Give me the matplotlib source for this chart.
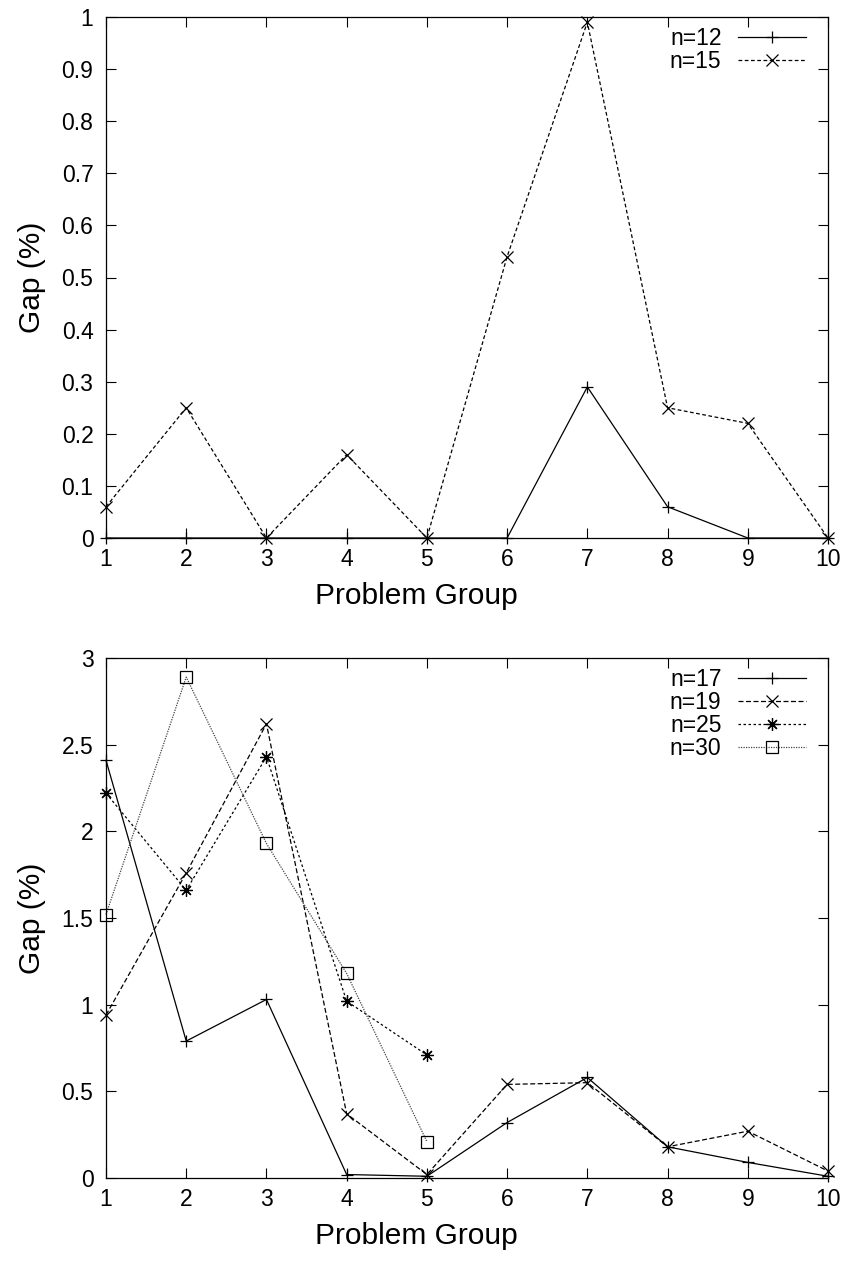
import matplotlib
matplotlib.use("Agg")
import matplotlib.pyplot as plt
import numpy as np

plt.rcParams['font.family'] = ['Liberation Sans', 'DejaVu Sans']

groups = [1, 2, 3, 4, 5, 6, 7, 8, 9, 10]

# top panel
n12 = [0, 0, 0, 0, 0, 0, 0.29, 0.06, 0, 0]
n15 = [0.06, 0.25, 0, 0.16, 0, 0.54, 0.99, 0.25, 0.22, 0]

# bottom panel
n17 = [2.41, 0.79, 1.03, 0.02, 0.01, 0.32, 0.58, 0.18, 0.09, 0.01]
n19 = [0.94, 1.76, 2.62, 0.37, 0.02, 0.54, 0.55, 0.18, 0.27, 0.04]
groups_short = [1, 2, 3, 4, 5]
n25 = [2.22, 1.66, 2.43, 1.02, 0.71]
n30 = [1.52, 2.89, 1.93, 1.18, 0.21]

top_yticks = [0, 0.1, 0.2, 0.3, 0.4, 0.5, 0.6, 0.7, 0.8, 0.9, 1]
top_yticklabels = ['0', '0.1', '0.2', '0.3', '0.4', '0.5', '0.6', '0.7', '0.8', '0.9', '1']
bot_yticks = [0, 0.5, 1, 1.5, 2, 2.5, 3]
bot_yticklabels = ['0', '0.5', '1', '1.5', '2', '2.5', '3']

W, H = 845, 1262
fig = plt.figure(figsize=(W / 100, H / 100), dpi=100)

def px_axes(l, t, r, b):
    return fig.add_axes([l / W, 1 - b / H, (r - l) / W, (b - t) / H])

ax1 = px_axes(106, 17, 828, 538)
ax2 = px_axes(106, 658, 828, 1178)

lw = 0.9
ms = 9

ax1.plot(groups, n12, color='black', lw=lw, ls='-', marker='+', ms=ms, mew=lw, label='n=12', clip_on=False)
ax1.plot(groups, n15, color='black', lw=lw, ls=(0, (3, 2)), marker='x', ms=ms - 1, mew=lw, label='n=15', clip_on=False)

ax2.plot(groups, n17, color='black', lw=lw, ls='-', marker='+', ms=ms, mew=lw, label='n=17', clip_on=False)
ax2.plot(groups, n19, color='black', lw=lw, ls=(0, (4, 2)), marker='x', ms=ms - 1, mew=lw, label='n=19', clip_on=False)
ax2.plot(groups_short, n25, color='black', lw=lw, ls=(0, (2, 2)), marker=(8, 2, 0), ms=ms, mew=lw, label='n=25', clip_on=False)
ax2.plot(groups_short, n30, color='#444444', lw=lw, ls=(0, (1, 1)), marker='s', ms=ms - 1, mew=lw,
         mfc='none', mec='black', label='n=30', clip_on=False)

for ax, yt, ytl, ymax in [(ax1, top_yticks, top_yticklabels, 1), (ax2, bot_yticks, bot_yticklabels, 3)]:
    ax.set_xlim(1, 10)
    ax.set_ylim(0, ymax)
    ax.set_xticks(groups)
    ax.set_xticklabels([str(g) for g in groups])
    ax.set_yticks(yt)
    ax.set_yticklabels(ytl)
    ax.tick_params(direction='in', length=7, width=0.8, top=True, right=True, labelsize=16.5, pad=7, colors='black')
    ax.tick_params(axis='y', pad=9)
    for s in ax.spines.values():
        s.set_linewidth(0.9)
    ax.set_xlabel('Problem Group', fontsize=21.5)
    ax.xaxis.set_label_coords(0.43, -0.085)
    ax.set_ylabel('Gap (%)', fontsize=21.5)
    ax.yaxis.set_label_coords(-0.083, 0.5)
    leg = ax.legend(loc='upper right', bbox_to_anchor=(0.97, 0.98), frameon=False, markerfirst=False,
                    fontsize=16.5, handlelength=3.0, handletextpad=0.7, labelspacing=0.0, borderpad=0,
                    borderaxespad=0)

fig.savefig('out.png', dpi=100)
